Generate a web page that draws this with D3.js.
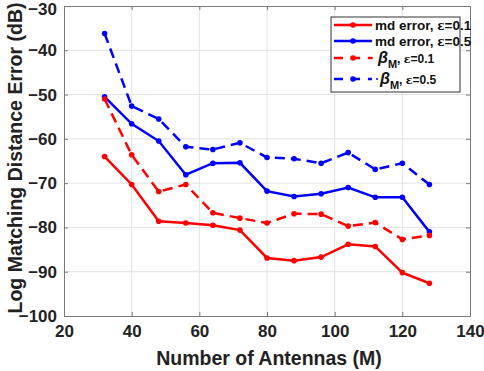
<!DOCTYPE html>
<html>
<head>
<meta charset="utf-8">
<script src="https://cdn.jsdelivr.net/npm/d3@7"></script>
<style>
  body { margin: 0; background: #fff; }
  text { font-family: "Liberation Sans", Arial, sans-serif; font-weight: bold; }
</style>
</head>
<body>
<div id="chart"></div>
<script>
// data
var antennas = [32, 40, 48, 56, 64, 72, 80, 88, 96, 104, 112, 120, 128];
var mdErr01  = [-64.0, -70.3, -78.6, -79.0, -79.5, -80.6, -86.9, -87.5, -86.7, -83.8, -84.3, -90.2, -92.6];
var mdErr05  = [-50.5, -56.6, -60.5, -68.1, -65.5, -65.4, -71.8, -73.0, -72.4, -71.0, -73.2, -73.2, -81.0];
var beta01   = [-51.0, -63.6, -71.9, -70.3, -76.7, -77.9, -79.0, -76.9, -77.0, -79.7, -78.9, -82.7, -81.8];
var beta05   = [-36.2, -52.6, -55.5, -61.8, -62.4, -60.9, -64.2, -64.5, -65.5, -63.1, -66.9, -65.5, -70.3];
var xTicks = [20, 40, 60, 80, 100, 120, 140];
var yTicks = [-100, -90, -80, -70, -60, -50, -40, -30];

var series = [
  {name: "md error, ", eps: "=0.1", values: mdErr01, color: "#ff0000", dash: null, beta: false},
  {name: "md error, ", eps: "=0.5", values: mdErr05, color: "#0000ff", dash: null, beta: false},
  {name: "", eps: "=0.1", values: beta01, color: "#ff0000", dash: "10,6", beta: true},
  {name: "", eps: "=0.5", values: beta05, color: "#0000ff", dash: "10,6", beta: true}
];

var width = 484, height = 371;
var margin = {top: 6, right: 14, bottom: 55, left: 64};
var w = width - margin.left - margin.right,
    h = height - margin.top - margin.bottom;

var svg = d3.select("#chart").append("svg")
    .attr("width", width)
    .attr("height", height);

var g = svg.append("g")
    .attr("transform", "translate(" + margin.left + "," + margin.top + ")");

var x = d3.scaleLinear().domain([20, 140]).range([0, w]);
var y = d3.scaleLinear().domain([-100, -30]).range([h, 0]);

// grid
g.append("g").selectAll("line").data(xTicks.slice(1, -1)).enter().append("line")
    .attr("x1", function(d) { return x(d); }).attr("x2", function(d) { return x(d); })
    .attr("y1", 0).attr("y2", h)
    .attr("stroke", "#e3e3e3").attr("stroke-width", 1);
g.append("g").selectAll("line").data(yTicks.slice(1, -1)).enter().append("line")
    .attr("y1", function(d) { return y(d); }).attr("y2", function(d) { return y(d); })
    .attr("x1", 0).attr("x2", w)
    .attr("stroke", "#e3e3e3").attr("stroke-width", 1);

// axes
g.append("g").attr("transform", "translate(0," + h + ")")
    .call(d3.axisBottom(x).tickValues(xTicks).tickSizeInner(-4).tickSizeOuter(0).tickPadding(9));
var yAxis = g.append("g")
    .call(d3.axisLeft(y).tickValues(yTicks).tickSizeInner(-4).tickSizeOuter(0).tickPadding(7));
g.append("g")
    .call(d3.axisTop(x).tickValues(xTicks).tickSizeInner(-4).tickSizeOuter(0).tickFormat(""));
g.append("g").attr("transform", "translate(" + w + ",0)")
    .call(d3.axisRight(y).tickValues(yTicks).tickSizeInner(-4).tickSizeOuter(0).tickFormat(""));

g.selectAll(".domain, .tick line").attr("stroke", "#7a7a7a");
g.selectAll(".tick text")
    .attr("font-size", 17).attr("fill", "#222")
    .style("font-family", "'Liberation Sans', Arial, sans-serif").style("font-weight", "bold");
// keep the top label inside the page
yAxis.selectAll(".tick text").filter(function(d) { return d == -30; }).attr("dy", "0.5em");

// axis titles
svg.append("text")
    .attr("x", margin.left + w / 2 + 2).attr("y", 365)
    .attr("text-anchor", "middle").attr("font-size", 19.5).attr("fill", "#222")
    .text("Number of Antennas (M)");
svg.append("text")
    .attr("transform", "translate(22," + (margin.top + h / 2 - 3) + ") rotate(-90)")
    .attr("text-anchor", "middle").attr("font-size", 19.5).attr("fill", "#222")
    .text("Log Matching Distance Error (dB)");

// lines
var line = d3.line()
    .x(function(d, i) { return x(antennas[i]); })
    .y(function(d) { return y(d); });

series.forEach(function(s) {
    g.append("path")
        .datum(s.values)
        .attr("d", line)
        .attr("fill", "none")
        .attr("stroke", s.color)
        .attr("stroke-width", 2.5)
        .attr("stroke-dasharray", s.dash);
    g.selectAll(null).data(s.values).enter().append("circle")
        .attr("cx", function(d, i) { return x(antennas[i]); })
        .attr("cy", function(d) { return y(d); })
        .attr("r", 2.8)
        .attr("fill", s.color);
});

// legend
var leg = svg.append("g").attr("transform", "translate(331,17)");
leg.append("rect")
    .attr("width", 129).attr("height", 75)
    .attr("fill", "#fff").attr("stroke", "#333").attr("stroke-width", 1);

var legY = [8, 24, 41, 62];
series.forEach(function(s, i) {
    var row = leg.append("g").attr("transform", "translate(0," + legY[i] + ")");
    row.append("line")
        .attr("x1", 3).attr("x2", 41).attr("y1", 0).attr("y2", 0)
        .attr("stroke", s.color).attr("stroke-width", 2.5)
        .attr("stroke-dasharray", s.dash ? "9,8" : null);
    row.append("circle").attr("cx", 22).attr("cy", 0).attr("r", 2.8).attr("fill", s.color);
    if (s.beta) {
        row.append("circle").attr("cx", i == 2 ? 41 : 46).attr("cy", 0).attr("r", 1).attr("fill", s.color);
    }
    var t = row.append("text")
        .attr("x", s.beta ? (i == 2 ? 47 : 49) : 44).attr("y", 5)
        .attr("font-size", 13.5).attr("fill", "#111");
    if (s.beta) {
        t.append("tspan").attr("font-style", "italic").attr("font-size", 16).text("\u03B2");
        t.append("tspan").attr("dy", 5).attr("font-size", 11).text("M");
        t.append("tspan").attr("dy", -5).attr("font-size", 12).text(", ");
        t.append("tspan").style("font-family", "'DejaVu Serif', serif").attr("font-size", 11).text("\u03B5");
        t.append("tspan").attr("font-size", 12).text(s.eps);
    } else {
        t.append("tspan").text(s.name);
        t.append("tspan").style("font-family", "'DejaVu Serif', serif").attr("font-size", 12).text("\u03B5");
        t.append("tspan").text(s.eps);
    }
});
</script>
</body>
</html>
